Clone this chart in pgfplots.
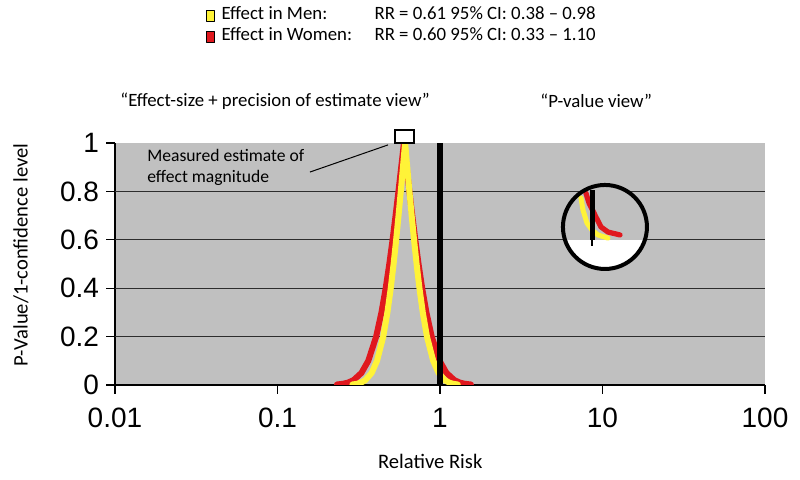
\documentclass[border=0pt]{standalone}
\usepackage{fontspec}
\setmainfont{Carlito}
\newfontfamily\arial{Liberation Sans}
\usepackage{pgfplots}
\pgfplotsset{compat=1.18}

\definecolor{plotbg}{RGB}{192,192,192}
\definecolor{effyellow}{RGB}{255,243,56}
\definecolor{effred}{RGB}{224,24,30}
\definecolor{gridc}{RGB}{45,45,45}

\begin{document}
\begin{tikzpicture}
% 1 px of the reference = 0.5pt
\path[use as bounding box] (-57.5pt,-47.5pt) rectangle (342.5pt,192.5pt);
\begin{axis}[
    width=325pt, height=121pt, scale only axis,
    xmode=log, xmin=0.01, xmax=100, ymin=0, ymax=1,
    xtick={0.01,0.1,1,10,100}, xticklabels={0.01,0.1,1,10,100},
    xminorticks=false,
    ytick={0,0.2,0.4,0.6,0.8,1}, yticklabels={0,0.2,0.4,0.6,0.8,1},
    axis lines*=left,
    axis line style={line width=0.6pt, black},
    tick align=outside, major tick length=4.5pt,
    tick style={black, line width=0.6pt},
    axis background/.style={fill=plotbg},
    extra y ticks={0.2,0.4,0.6,0.8}, extra y tick labels={},
    extra y tick style={grid=major, major tick length=0pt},
    grid style={gridc, line width=0.6pt},
    tick label style={font=\arial\fontsize{14}{16}\selectfont},
    xticklabel style={yshift=-3.5pt},
    /pgf/number format/assume math mode=true,
    xlabel={Relative Risk}, ylabel={P-Value/1-confidence level},
    label style={font=\fontsize{10.3}{12}\selectfont},
    xlabel style={at={(axis description cs:0.485,-0.314)}, anchor=center},
    ylabel style={at={(axis description cs:-0.1446,0.537)}, anchor=center},
    clip mode=individual,
    reverse legend,
    legend cell align=left,
    legend style={at={(axis description cs:0.140,1.5744)}, anchor=north west,
        draw=none, fill=none, inner sep=0pt, outer sep=0pt, row sep=0pt,
        font=\fontsize{9.4}{10}\selectfont,
        nodes={inner sep=1.5pt, text height=6.5pt, text depth=1pt}},
]
% women (red), drawn first so that men (yellow) lies on top
\addplot[effred, line width=3pt, line join=round, line cap=round,
    legend image code/.code={\draw[fill=effred, draw=black, line width=0.6pt] (0pt,-3.6pt) rectangle (4pt,1.9pt); \path (4.5pt,0pt);}]
    coordinates {(0.2323,0.002) (0.2534,0.005) (0.2720,0.01) (0.2937,0.02) (0.3287,0.05)
    (0.3621,0.1) (0.4048,0.2) (0.4364,0.3) (0.4633,0.4) (0.4877,0.5) (0.5108,0.6)
    (0.5330,0.7) (0.5551,0.8) (0.5773,0.9) (0.60,1) (0.6236,0.9) (0.6485,0.8)
    (0.6754,0.7) (0.7048,0.6) (0.7381,0.5) (0.7770,0.4) (0.8249,0.3) (0.8894,0.2)
    (0.9943,0.1) (1.0954,0.05) (1.2258,0.02) (1.3234,0.01) (1.4207,0.005) (1.5499,0.002)};
\addlegendentry{\makebox[76.5pt][l]{Effect in Women:}RR = 0.60 95\% CI: 0.33 – 1.10}
% men (yellow)
\addplot[effyellow, line width=3pt, line join=round, line cap=round,
    legend image code/.code={\draw[fill=effyellow, draw=black, line width=0.6pt] (0pt,-3.6pt) rectangle (4pt,1.9pt); \path (4.5pt,0pt);}]
    coordinates {(0.2890,0.002) (0.3095,0.005) (0.3273,0.01) (0.3476,0.02) (0.3798,0.05)
    (0.4099,0.1) (0.4475,0.2) (0.4748,0.3) (0.4977,0.4) (0.5182,0.5) (0.5374,0.6)
    (0.5558,0.7) (0.5738,0.8) (0.5917,0.9) (0.61,1) (0.6288,0.9) (0.6485,0.8)
    (0.6695,0.7) (0.6924,0.6) (0.7180,0.5) (0.7476,0.4) (0.7836,0.3) (0.8315,0.2)
    (0.9078,0.1) (0.9797,0.05) (1.0704,0.02) (1.1369,0.01) (1.2022,0.005) (1.2874,0.002)};
\addlegendentry{\makebox[76.5pt][l]{Effect in Men:}RR = 0.61 95\% CI: 0.38 – 0.98}
% null value
\addplot[black, line width=2.8pt, forget plot] coordinates {(1,0) (1,1)};

% magnifying circle ("P-value view")
\fill[plotbg] (axis description cs:0.7538,0.653) circle (21pt);
\begin{scope}
  \clip (axis description cs:0.7538,0.653) circle (21pt);
  \fill[white] (axis description cs:0.65,0) rectangle (axis description cs:0.86,0.599);
\end{scope}
\addplot[effyellow, line width=2.5pt, line cap=round, forget plot]
    coordinates {(7.376,0.773) (7.586,0.723) (8.03,0.669) (8.62,0.640) (9.38,0.620) (10.81,0.607)};
\addplot[effred, line width=2.6pt, line cap=round, forget plot]
    coordinates {(7.91,0.793) (8.26,0.752) (9.12,0.694) (9.79,0.653) (10.81,0.632) (12.82,0.620)};
\addplot[black, line width=2.5pt, forget plot] coordinates {(8.62,0.599) (8.62,0.806)};
\addplot[black, line width=0.6pt, forget plot] coordinates {(8.62,0.599) (8.62,0.574)};
\draw[black, line width=2pt] (axis description cs:0.7538,0.653) circle (21pt);

% estimate marker and annotation
\draw[black, fill=white, line width=0.6pt] (axis description cs:0.4308,1) rectangle (axis description cs:0.4600,1.0537);
\draw[black, line width=0.5pt] (axis description cs:0.300,0.880) -- (axis description cs:0.420,0.992);
\node[anchor=west, inner sep=0pt, font=\fontsize{8.8}{10}\selectfont] at (axis description cs:0.0492,0.950) {Measured estimate of};
\node[anchor=west, inner sep=0pt, font=\fontsize{8.8}{10}\selectfont] at (axis description cs:0.0492,0.855) {effect magnitude};

% view captions
\node[anchor=west, inner sep=0pt, font=\fontsize{9.4}{11}\selectfont] at (axis description cs:0.0077,1.1736) {“Effect-size + precision of estimate view”};
\node[anchor=west, inner sep=0pt, font=\fontsize{9.4}{11}\selectfont] at (axis description cs:0.654,1.1736) {“P-value view”};
\end{axis}
\end{tikzpicture}
\end{document}
